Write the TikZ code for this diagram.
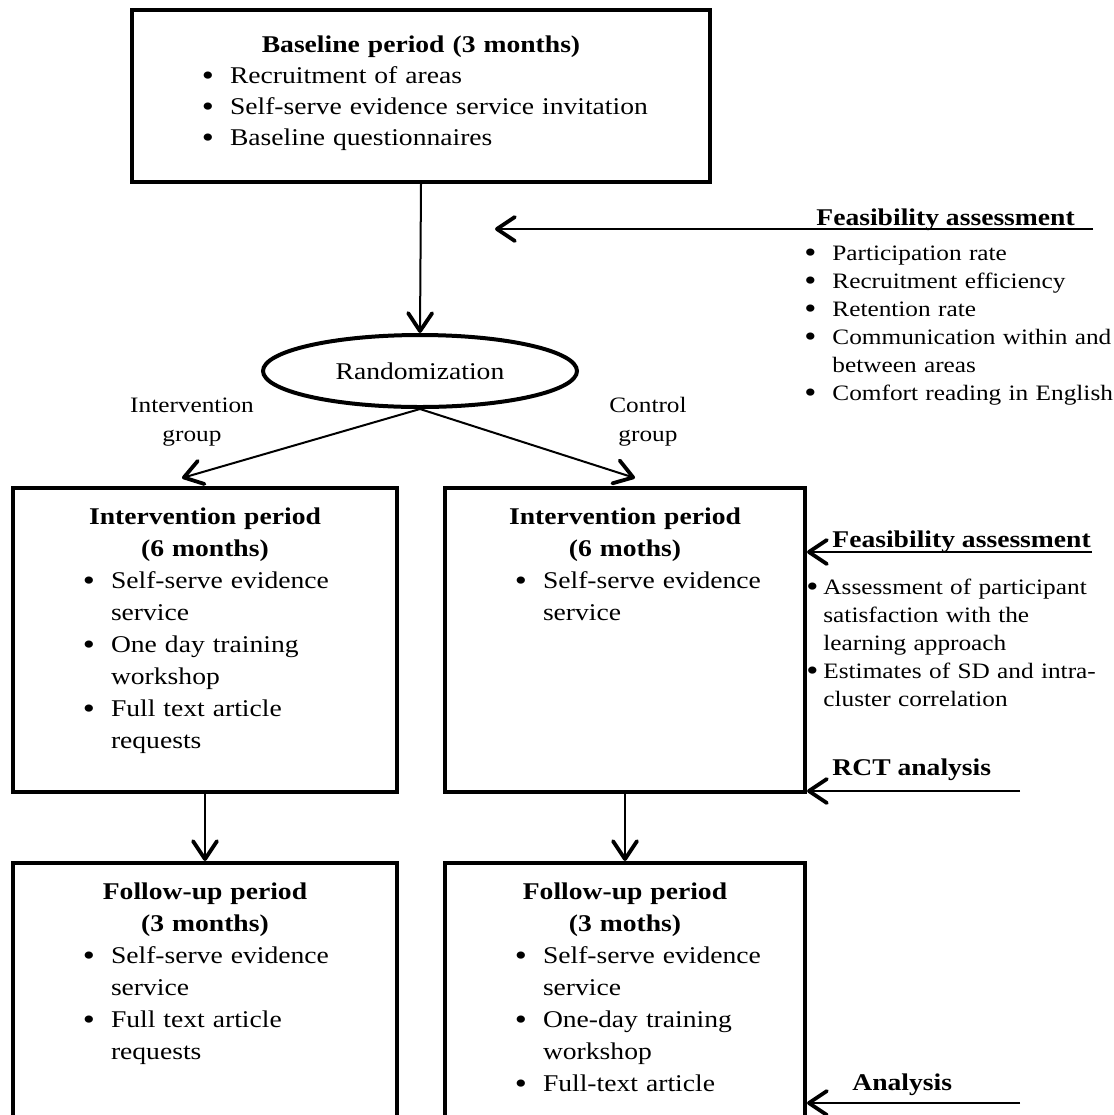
\documentclass[tikz,border=0pt]{standalone}
\usepackage{fontspec}
\setmainfont[FakeStretch=1.15]{Liberation Serif}
\usepackage{enumitem}
\usetikzlibrary{arrows.meta, positioning, shapes.geometric}

\newcommand{\bigbul}{\raisebox{-1pt}{\fontsize{15}{15}\selectfont\textbullet}}
\newlist{boxlist}{itemize}{1}
\setlist[boxlist]{label=\bigbul, leftmargin=49pt, labelsep=8pt, itemsep=0pt, topsep=0pt, parsep=0pt, partopsep=0pt}
\newlist{sidelist}{itemize}{1}
\setlist[sidelist]{label=\bigbul, itemsep=0pt, topsep=0pt, parsep=0pt, partopsep=0pt}

\begin{document}
\begin{tikzpicture}[x=0.5pt, y=-0.5pt,
    box/.style={draw, rectangle, line width=2pt, inner sep=0pt},
    btext/.style={anchor=north, align=left, inner sep=0pt, font=\fontsize{12}{16}\selectfont},
    side/.style={anchor=north west, align=left, inner sep=0pt, font=\fontsize{11}{14}\selectfont},
    head/.style={anchor=base west, inner sep=0pt, font=\fontsize{12}{14}\selectfont\bfseries},
    arr/.style={line width=1pt, -{Straight Barb[length=9pt, width=12pt, line width=1.9pt, round]}}]

    \useasboundingbox (0,0) rectangle (1114,1115);
    \clip (0,0) rectangle (1114,1115);

    % Baseline box
    \node[box, minimum width=289pt, minimum height=86pt] (base) at (421,96) {};
    \node[btext, text width=289pt, font=\fontsize{12}{15.5}\selectfont] (baseT) at (421,35)
        {{\centering\textbf{Baseline period (3 months)}\par}
         \begin{boxlist}
            \item Recruitment of areas
            \item Self-serve evidence service invitation
            \item Baseline questionnaires
         \end{boxlist}};

    % Randomization
    \node[draw, ellipse, line width=2pt, minimum width=157pt, minimum height=36pt, inner sep=0pt,
        font=\fontsize{12}{14}\selectfont] (rand) at (420,371) {Randomization};

    % Group labels
    \node[align=center, font=\fontsize{11}{14.5}\selectfont] (lblI) at (192,422) {Intervention\\group};
    \node[align=center, font=\fontsize{11}{14.5}\selectfont] (lblC) at (648,422) {Control\\group};

    % Intervention period boxes
    \node[box, minimum width=192pt, minimum height=152pt] (intL) at (205,640) {};
    \node[btext, text width=192pt] (intLT) at (205,507)
        {{\centering\textbf{Intervention period}\\\textbf{(6 months)}\par}
         \begin{boxlist}
            \item Self-serve evidence\\service
            \item One day training\\workshop
            \item Full text article\\requests
         \end{boxlist}};

    \node[box, minimum width=180pt, minimum height=152pt] (intR) at (625,640) {};
    \node[btext, text width=180pt] (intRT) at (625,507)
        {{\centering\textbf{Intervention period}\\\textbf{(6 moths)}\par}
         \begin{boxlist}
            \item Self-serve evidence\\service
         \end{boxlist}};

    % Follow-up period boxes (cut by the page bottom)
    \node[box, minimum width=192pt, minimum height=126.75pt] (fuL) at (205,989.75) {};
    \node[btext, text width=192pt] (fuLT) at (205,882)
        {{\centering\textbf{Follow-up period}\\\textbf{(3 months)}\par}
         \begin{boxlist}
            \item Self-serve evidence\\service
            \item Full text article\\requests
         \end{boxlist}};

    \node[box, minimum width=180pt, minimum height=126.75pt] (fuR) at (625,989.75) {};
    \node[btext, text width=180pt] (fuRT) at (625,882)
        {{\centering\textbf{Follow-up period}\\\textbf{(3 moths)}\par}
         \begin{boxlist}
            \item Self-serve evidence\\service
            \item One-day training\\workshop
            \item Full-text article
         \end{boxlist}};

    % Feasibility assessment (top)
    \node[head] (feasAT) at (816,225) {Feasibility assessment};
    \node[side, text width=170pt] (feasAL) at (790,232)
        {\begin{sidelist}[leftmargin=21pt, labelsep=8pt]
            \item Participation rate
            \item Recruitment efficiency
            \item Retention rate
            \item Communication within and\\between areas
            \item Comfort reading in English
         \end{sidelist}};

    % Feasibility assessment (middle)
    \node[head] (feasBT) at (832,547) {Feasibility assessment};
    \node[side, text width=150pt] (feasBL) at (800,566)
        {\begin{sidelist}[leftmargin=11.5pt, labelsep=2.5pt]
            \item Assessment of participant\\satisfaction with the\\learning approach
            \item Estimates of SD and intra-\\cluster correlation
         \end{sidelist}};

    % Analysis labels
    \node[head] (rctT) at (832,775) {RCT analysis};
    \node[head] (anaT) at (852,1090) {Analysis};

    % Free ends
    \coordinate (tipL) at (182,478);
    \coordinate (tipR) at (635,478);
    \coordinate (feasA) at (1093,229);
    \coordinate (feasAtip) at (495,229);
    \coordinate (feasB) at (1092,552);
    \coordinate (rctB) at (1020,791);
    \coordinate (anaB) at (1020,1103);

    % Arrows
    \draw[arr] (base.south) -- (rand.north);
    \draw[arr] (rand.south) -- (tipL);
    \draw[arr] (rand.south) -- (tipR);
    \draw[arr] (intL.south) -- (fuL.north);
    \draw[arr] (intR.south) -- (fuR.north);
    \draw[arr] (feasA) -- (feasAtip);
    \draw[arr] (feasB) -- (feasB -| intR.east);
    \draw[arr] (rctB) -- (rctB -| intR.east);
    \draw[arr] (anaB) -- (anaB -| fuR.east);

\end{tikzpicture}
\end{document}
